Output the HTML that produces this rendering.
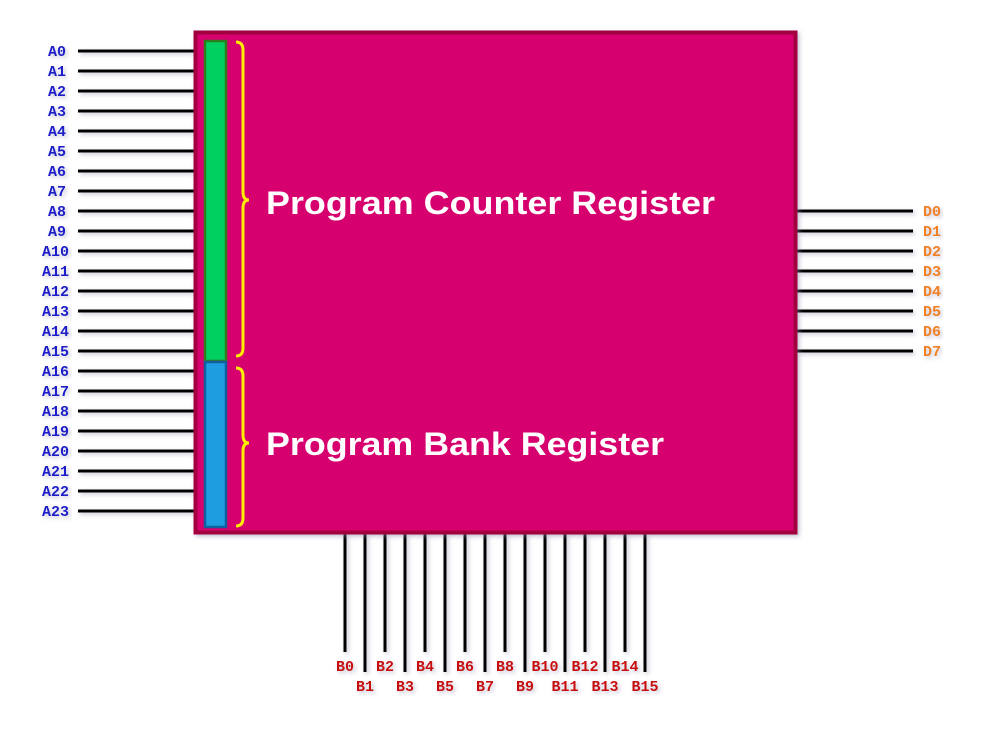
<!DOCTYPE html>
<html><head><meta charset="utf-8"><style>
html,body{margin:0;padding:0;background:#fff;}
svg{display:block;}
.l{font-family:"Liberation Mono",monospace;font-weight:bold;font-size:15px;}
</style></head><body>
<svg width="990" height="739" viewBox="0 0 990 739" xmlns="http://www.w3.org/2000/svg">
<defs><filter id="sh" x="-5%" y="-5%" width="115%" height="115%"><feDropShadow dx="2" dy="2" stdDeviation="2" flood-color="#8888aa" flood-opacity="0.5"/></filter></defs>
<g stroke="#000" stroke-width="3" filter="url(#sh)">
<path d="M78 51H194M78 71H194M78 91H194M78 111H194M78 131H194M78 151H194M78 171H194M78 191H194M78 211H194M78 231H194M78 251H194M78 271H194M78 291H194M78 311H194M78 331H194M78 351H194M78 371H194M78 391H194M78 411H194M78 431H194M78 451H194M78 471H194M78 491H194M78 511H194"/>
<path d="M797 211H913M797 231H913M797 251H913M797 271H913M797 291H913M797 311H913M797 331H913M797 351H913"/>
<path d="M345 534V652M365 534V672M385 534V652M405 534V672M425 534V652M445 534V672M465 534V652M485 534V672M505 534V652M525 534V672M545 534V652M565 534V672M585 534V652M605 534V672M625 534V652M645 534V672"/>
</g>
<rect x="195.5" y="32.5" width="600" height="500" fill="#d6006e" stroke="#a3003f" stroke-width="4" filter="url(#sh)"/>
<rect x="205" y="41" width="21" height="320" fill="#00d060" stroke="#2e7d1e" stroke-width="2.5"/>
<rect x="205" y="362" width="21" height="165" fill="#1e9ee0" stroke="#1060a0" stroke-width="2.5"/>
<g fill="none" stroke="#ffee00" stroke-width="3">
<path d="M236 42Q243 42 243 50V192Q243 200 249 200Q243 200 243 208V348Q243 356 236 356"/>
<path d="M236 368Q243 368 243 376V435Q243 443 249 443Q243 443 243 451V518Q243 526 236 526"/>
</g>
<g fill="#fff" font-family="'Liberation Sans',sans-serif" font-weight="bold" font-size="32">
<text x="266" y="214" textLength="449" lengthAdjust="spacingAndGlyphs">Program Counter Register</text>
<text x="266" y="455" textLength="398" lengthAdjust="spacingAndGlyphs">Program Bank Register</text>
</g>
<g class="l" fill="#1a1ac8" text-anchor="end" filter="url(#sh)">
<text x="66" y="56">A0</text><text x="66" y="76">A1</text><text x="66" y="96">A2</text><text x="66" y="116">A3</text><text x="66" y="136">A4</text><text x="66" y="156">A5</text><text x="66" y="176">A6</text><text x="66" y="196">A7</text><text x="66" y="216">A8</text><text x="66" y="236">A9</text><text x="69" y="256">A10</text><text x="69" y="276">A11</text><text x="69" y="296">A12</text><text x="69" y="316">A13</text><text x="69" y="336">A14</text><text x="69" y="356">A15</text><text x="69" y="376">A16</text><text x="69" y="396">A17</text><text x="69" y="416">A18</text><text x="69" y="436">A19</text><text x="69" y="456">A20</text><text x="69" y="476">A21</text><text x="69" y="496">A22</text><text x="69" y="516">A23</text>
</g>
<g class="l" fill="#f08020" filter="url(#sh)">
<text x="923" y="216">D0</text><text x="923" y="236">D1</text><text x="923" y="256">D2</text><text x="923" y="276">D3</text><text x="923" y="296">D4</text><text x="923" y="316">D5</text><text x="923" y="336">D6</text><text x="923" y="356">D7</text>
</g>
<g class="l" fill="#c81010" text-anchor="middle" filter="url(#sh)">
<text x="345" y="671">B0</text><text x="365" y="691">B1</text><text x="385" y="671">B2</text><text x="405" y="691">B3</text><text x="425" y="671">B4</text><text x="445" y="691">B5</text><text x="465" y="671">B6</text><text x="485" y="691">B7</text><text x="505" y="671">B8</text><text x="525" y="691">B9</text><text x="545" y="671">B10</text><text x="565" y="691">B11</text><text x="585" y="671">B12</text><text x="605" y="691">B13</text><text x="625" y="671">B14</text><text x="645" y="691">B15</text>
</g>
</svg>
</body></html>
